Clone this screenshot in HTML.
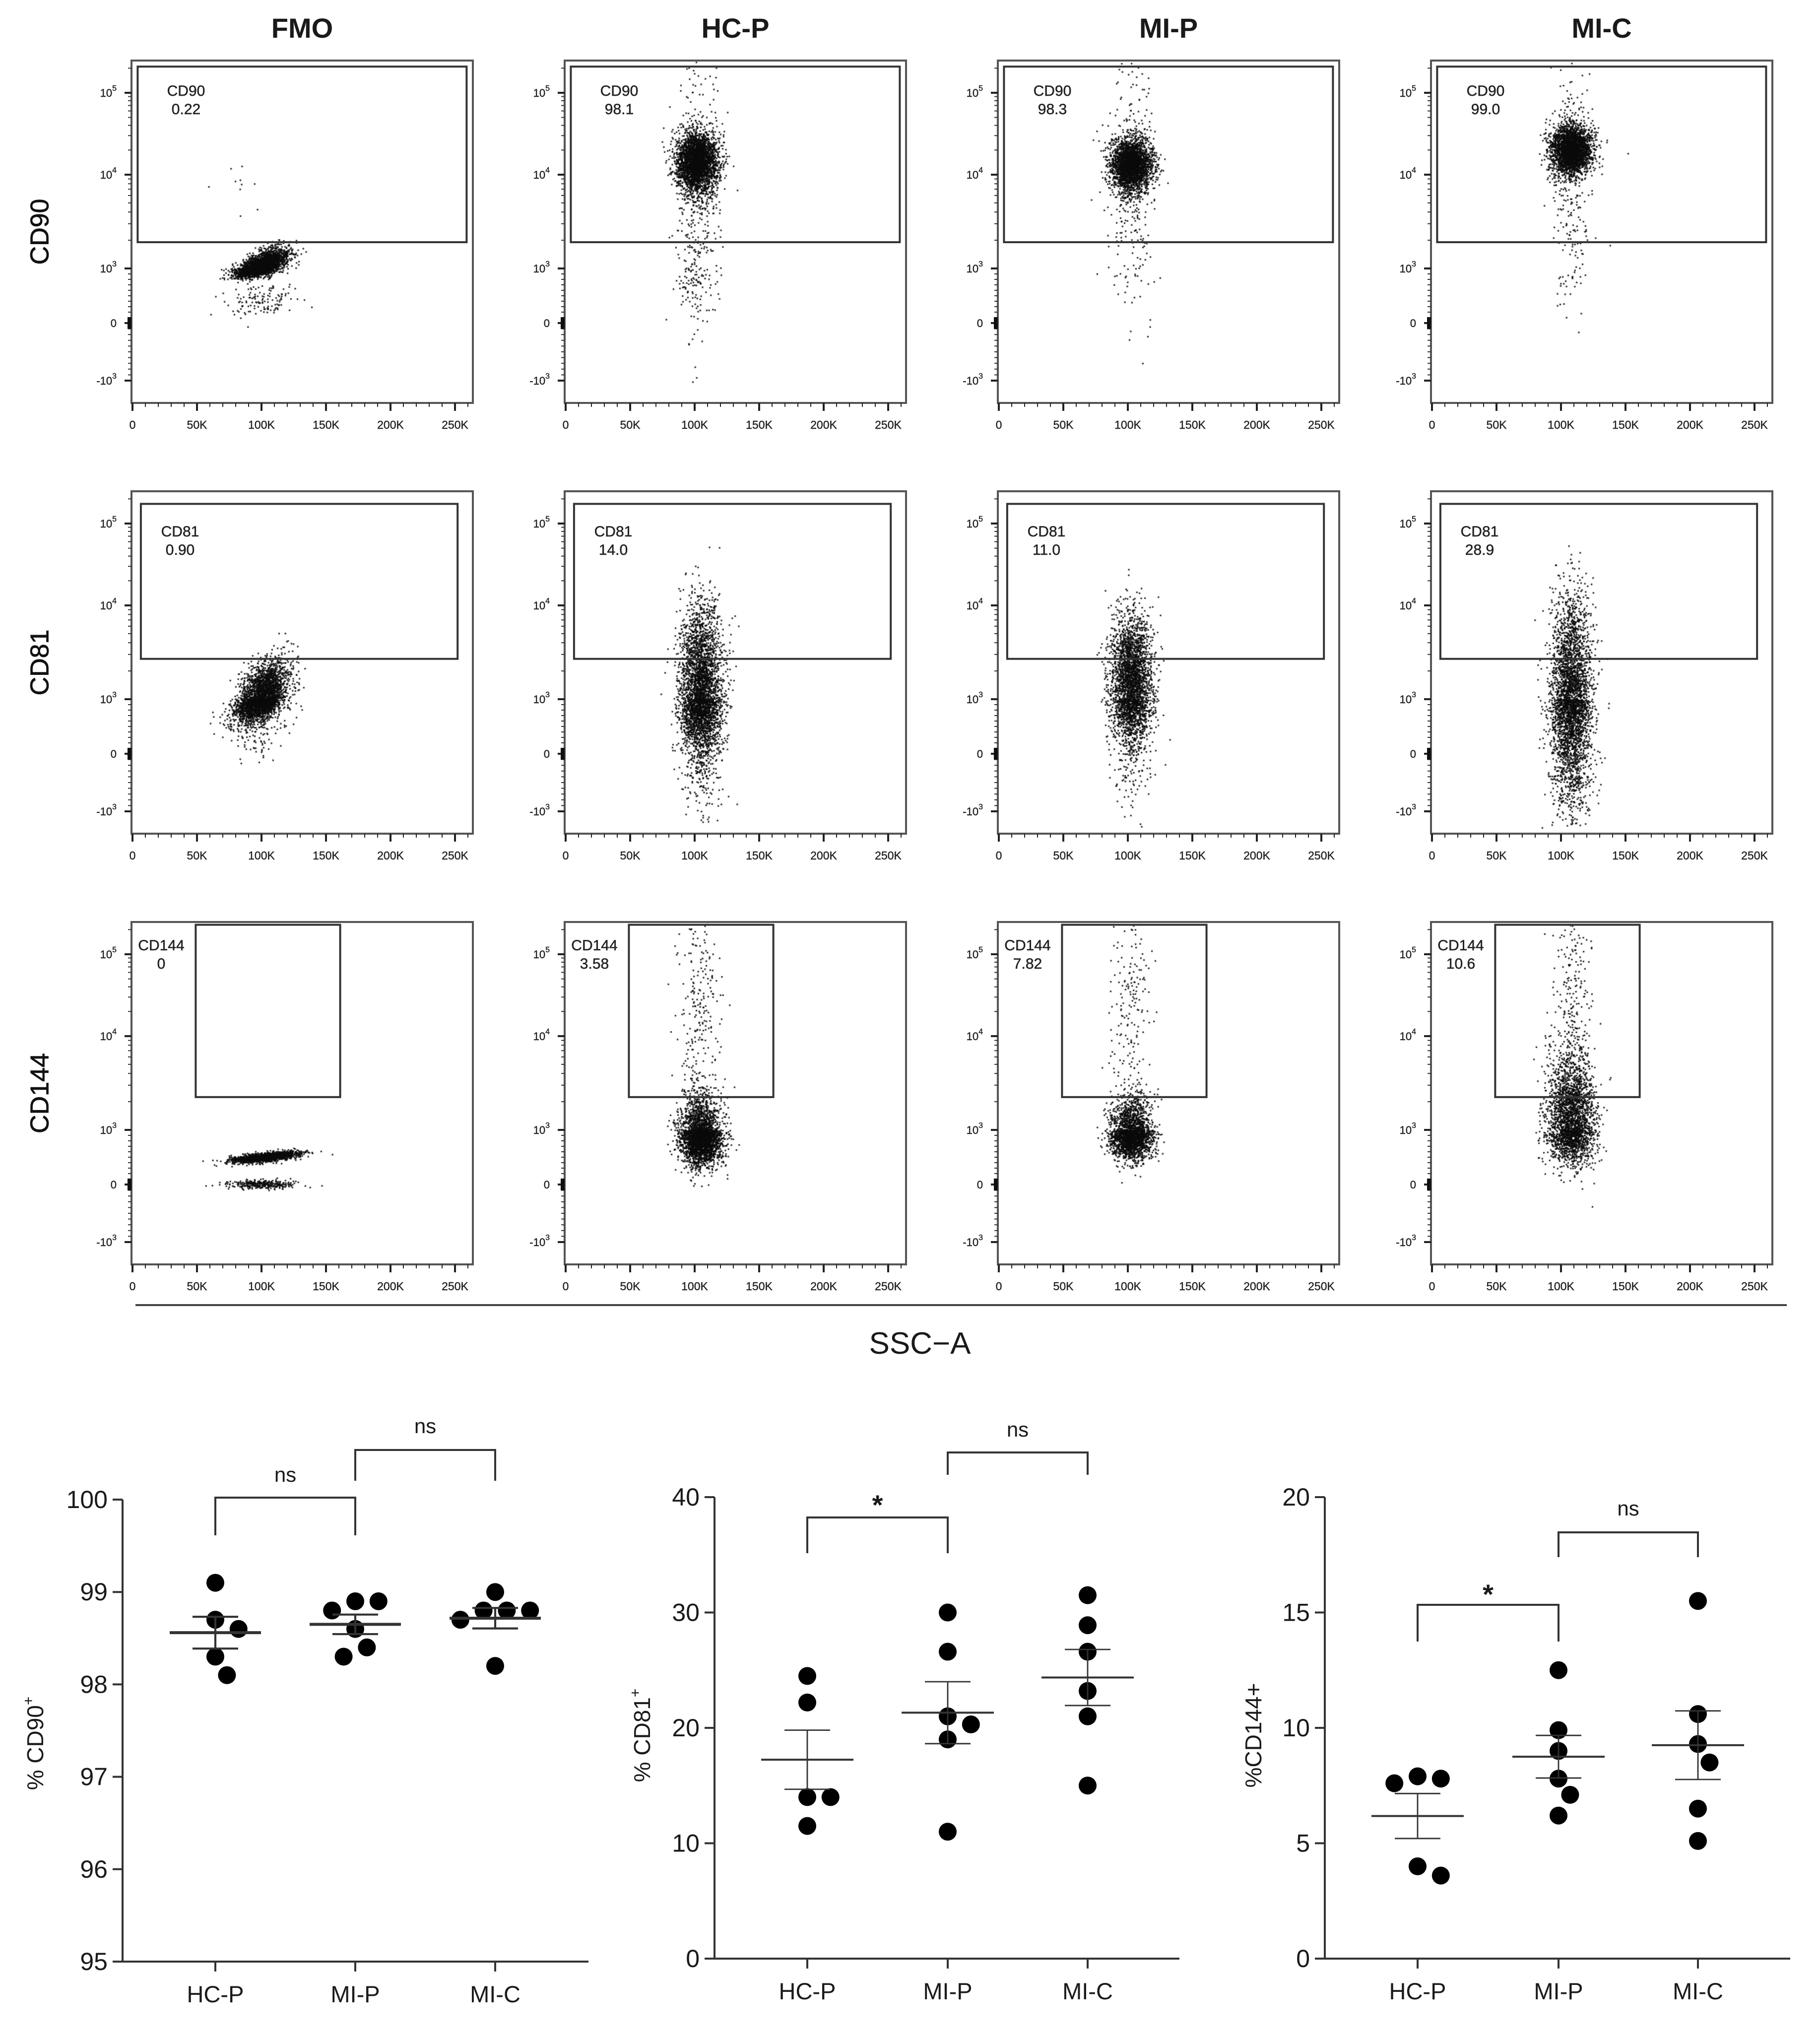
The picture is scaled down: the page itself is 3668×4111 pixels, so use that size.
<!DOCTYPE html>
<html><head><meta charset="utf-8">
<style>
html,body{margin:0;padding:0;background:#fff;}
#wrap{position:relative;width:3668px;height:4111px;overflow:hidden;}
#dots{position:absolute;left:0;top:0;}
#fig{position:absolute;left:0;top:0;}
text{font-family:"Liberation Sans",sans-serif;}
</style></head>
<body>
<div id="wrap">
<canvas id="dots" width="3668" height="4111"></canvas>
<svg id="fig" width="3668" height="4111" xmlns="http://www.w3.org/2000/svg"></svg>
</div>
<script>
// ---------- FLOW DATA ----------
const colTitles = ["FMO","HC-P","MI-P","MI-C"];
const rowMarkers = ["CD90","CD81","CD144"];
const gateValues = [["0.22","98.1","98.3","99.0"],["0.90","14.0","11.0","28.9"],["0","3.58","7.82","10.6"]];
// gates per row: [xMinK, xMaxK], [uBottom, uTop]
const gatesX = [[4,259],[6.5,252],[49,161]];
const gatesU = [[1.28,3.32],[1.43,3.24],[1.35,3.36]];
const xTickLabels = ["0","50K","100K","150K","200K","250K"];
const xTickValues = [0,50,100,150,200,250];
// populations: [centerK, centerU, sdK, sdU, rho, count]
const popsRow1 = [
  [[100,1.02,10,0.09,0.6,2500],[100,0.4,14,0.16,0.2,130],[95,1.6,14,0.3,0,12]],
  [[102,2.15,8,0.18,0,3000],[102,1.6,9,0.85,0,420]],
  [[103,2.12,8,0.16,0,2600],[103,2.0,9,0.8,0,320]],
  [[108,2.3,8,0.16,0,2600],[108,2.0,8,0.8,0,260]]
];
const popsRow2 = [
  [[100,1.0,10,0.2,0.5,2800],[100,0.6,13,0.3,0.3,200]],
  [[105,1.1,8,0.45,0,3000],[105,0.3,8,0.6,0,600]],
  [[103,1.2,8,0.35,0,2500],[103,0.5,8,0.6,0,500]],
  [[108,1.1,8,0.5,0,2500],[108,0.0,8,0.6,0,900]]
];
const popsRow3 = [
  [[103,0.5,13,0.05,0.6,1500],[100,0.0,14,0.04,0,300]],
  [[105,0.85,8,0.25,0,2800],[105,2.3,8,0.7,0,250]],
  [[103,0.9,8,0.22,0,2200],[103,2.3,8,0.7,0,200]],
  [[108,1.1,9,0.35,0,2500],[108,2.3,8,0.7,0,250]]
];
const populations = [popsRow1,popsRow2,popsRow3];

// ---------- DOT CHART DATA ----------
const categories = ["HC-P","MI-P","MI-C"];
const cd90Values = [[99.1,98.7,98.6,98.3,98.1],[98.9,98.9,98.8,98.6,98.4,98.3],[98.8,98.8,98.8,99.0,98.7,98.2]];
const cd81Values = [[24.5,22.2,14,14,11.5],[30,26.6,20.3,21,19,11],[31.5,28.9,26.6,23.2,21,15]];
const cd144Values = [[7.8,7.9,7.6,3.6,4],[12.5,9.9,9.0,7.8,7.1,6.2],[15.5,10.6,9.3,8.5,6.5,5.1]];
const cd90Ticks = [95,96,97,98,99,100];
const cd81Ticks = [0,10,20,30,40];
const cd144Ticks = [0,5,10,15,20];
const cd90Sig = ["ns","ns"];
const cd81Sig = ["*","ns"];
const cd144Sig = ["*","ns"];

// ---------- helpers ----------
const svg = document.getElementById('fig');
const NS = "http://www.w3.org/2000/svg";
function mk(tag, attrs, parent){
  const e = document.createElementNS(NS, tag);
  for (const k in attrs) e.setAttribute(k, attrs[k]);
  (parent||svg).appendChild(e);
  return e;
}
function txt(str, attrs, parent){
  const e = mk('text', attrs, parent);
  e.textContent = str;
  return e;
}
const ctx = document.getElementById('dots').getContext('2d');

let seed = 12345;
function rnd(){ seed |= 0; seed = seed + 0x6D2B79F5 | 0; let t = Math.imul(seed ^ seed >>> 15, 1 | seed); t = t + Math.imul(t ^ t >>> 7, 61 | t) ^ t; return ((t ^ t >>> 14) >>> 0) / 4294967296; }
function gauss(){ let u=0,v=0; while(u===0)u=rnd(); v=rnd(); return Math.sqrt(-2*Math.log(u))*Math.cos(2*Math.PI*v); }

const PW = 688, PH = 690;
const panelLeft = c => 265 + c*873;
const panelTop = r => 122 + r*868;
const uKnots = [-1,0,1,2,3];
const yKnots = [645,529,419,230,65];
function uToY(u){
  if (u <= uKnots[0]) return yKnots[0] + (u-uKnots[0])*(yKnots[1]-yKnots[0]);
  for (let i=0;i<uKnots.length-1;i++){
    if (u <= uKnots[i+1]) return yKnots[i] + (u-uKnots[i])/(uKnots[i+1]-uKnots[i])*(yKnots[i+1]-yKnots[i]);
  }
  const n = uKnots.length-1;
  return yKnots[n] + (u-uKnots[n])*(yKnots[n]-yKnots[n-1]);
}
const kToX = k => 2 + k*2.6;

colTitles.forEach((t,c)=>{
  const e = txt(t,{x:panelLeft(c)+PW/2, y:76, 'text-anchor':'middle','font-size':56,'font-weight':'bold',fill:'#1a1a1a'});
  
  
});
rowMarkers.forEach((m,r)=>{
  const cy = panelTop(r)+PH/2, cx = 84;
  const e = txt(m,{x:cx, y:cy, transform:`rotate(-90 ${cx} ${cy})`, 'text-anchor':'middle','dominant-baseline':'middle','font-size':52,fill:'#111',stroke:'#111','stroke-width':0.8});
  
  
});

for (let r=0;r<3;r++){
  for (let c=0;c<4;c++){
    const L = panelLeft(c), T = panelTop(r);
    const g = mk('g',{});
    
    
    const fr = mk('rect',{x:L,y:T,width:PW,height:PH,fill:'none',stroke:'#555','stroke-width':4},g);
    
    
    const yLabels = [["-10","3",-1],["0","",0],["10","3",1],["10","4",2],["10","5",3]];
    yLabels.forEach(([b,s,u])=>{
      const y = T+uToY(u);
      mk('line',{x1:L-14,y1:y,x2:L,y2:y,stroke:'#222','stroke-width':4},g);
      const t = txt(b,{x:L-30,y:y+8,'text-anchor':'end','font-size':22,fill:'#222',stroke:'#222','stroke-width':0.4},g);
      if (s){ const ts = mk('tspan',{dy:-12,'font-size':16},t); ts.textContent = s; }
      
      
    });
    for (let d=0; d<3; d++){
      for (let m=2;m<=9;m++){
        const y = T+uToY(1+d+Math.log10(m));
        if (y > T+4) mk('line',{x1:L-7,y1:y,x2:L,y2:y,stroke:'#333','stroke-width':2},g);
      }
    }
    for (let i=1;i<10;i++){
      const y1 = T+uToY(i/10), y2 = T+uToY(-i/10);
      mk('line',{x1:L-7,y1:y1,x2:L,y2:y1,stroke:'#333','stroke-width':2},g);
      mk('line',{x1:L-7,y1:y2,x2:L,y2:y2,stroke:'#333','stroke-width':2},g);
    }
    mk('rect',{x:L-8,y:T+uToY(0)-12,width:8,height:24,fill:'#111'},g);
    for (let k=0;k<=260;k+=10){
      const x = L+kToX(k), major = k%50===0;
      mk('line',{x1:x,y1:T+PH,x2:x,y2:T+PH+(major?16:8),stroke:'#222','stroke-width':major?4:2},g);
    }
    xTickValues.forEach((v,i)=>{
      const t = txt(xTickLabels[i],{x:L+kToX(v),y:T+PH+52,'text-anchor':'middle','font-size':23,fill:'#222',stroke:'#222','stroke-width':0.4},g);
      
      
    });
    const gx0 = L+kToX(gatesX[r][0]), gx1 = L+kToX(gatesX[r][1]);
    const gy0 = Math.max(T+4, T+uToY(gatesU[r][1])), gy1 = T+uToY(gatesU[r][0]);
    const gate = mk('rect',{x:gx0,y:gy0,width:gx1-gx0,height:gy1-gy0,fill:'none',stroke:'#333','stroke-width':4},g);
    
    
    const lx = r===0 ? L+110 : (r===1 ? L+98 : L+60);
    const ly = r===0 ? T+71 : (r===1 ? T+91 : T+57);
    const l1 = txt(rowMarkers[r],{x:lx,y:ly,'text-anchor':'middle','font-size':30,fill:'#222',stroke:'#222','stroke-width':0.5},g);
    
    
    const l2 = txt(gateValues[r][c],{x:lx,y:ly+37,'text-anchor':'middle','font-size':30,fill:'#222',stroke:'#222','stroke-width':0.5},g);
    
    
    ctx.fillStyle = 'rgba(10,10,10,0.85)';
    populations[r][c].forEach(([cx,cu,sx,su,rho,n])=>{
      for (let i=0;i<n;i++){
        const z1 = gauss(), z2 = gauss();
        const k = cx + sx*z1;
        const u = cu + su*(rho*z1 + Math.sqrt(1-rho*rho)*z2);
        const x = L + kToX(k), y = T + uToY(u);
        if (x < L+3 || x > L+PW-3 || y < T+3 || y > T+PH-3) continue;
        ctx.fillRect(x-1.6, y-1.6, 3.2, 3.2);
      }
    });
  }
}
const sscLine = mk('line',{x1:273,y1:2630,x2:3601,y2:2630,stroke:'#444','stroke-width':4});


const ssc = txt('SSC−A',{x:1854,y:2728,'text-anchor':'middle','font-size':62,fill:'#1a1a1a'});



function dotChart(o){
  const g = mk('g',{});
  
  
  const yS = v => o.yBot - (v-o.min)/(o.max-o.min)*(o.yBot-o.yTop);
  mk('line',{x1:o.ax,y1:o.yTop,x2:o.ax,y2:o.yBot,stroke:'#333','stroke-width':4},g);
  mk('line',{x1:o.ax,y1:o.yBot,x2:o.xEnd,y2:o.yBot,stroke:'#333','stroke-width':4},g);
  o.ticks.forEach(t=>{
    const y = yS(t);
    mk('line',{x1:o.ax-20,y1:y,x2:o.ax,y2:y,stroke:'#333','stroke-width':4},g);
    const e = txt(String(t),{x:o.ax-30,y:y+17,'text-anchor':'end','font-size':50,fill:'#1a1a1a'},g);
    
    
  });
  o.cats.forEach((cx,i)=>{
    mk('line',{x1:cx,y1:o.yBot,x2:cx,y2:o.yBot+20,stroke:'#333','stroke-width':4},g);
    const e = txt(categories[i],{x:cx,y:o.yBot+82,'text-anchor':'middle','font-size':47,fill:'#1a1a1a'},g);
    
    
  });
  const yl = txt(o.ylabel,{x:o.ylx,y:o.yly,transform:`rotate(-90 ${o.ylx} ${o.yly})`,'text-anchor':'middle','dominant-baseline':'middle','font-size':46,fill:'#1a1a1a'},g);
  if (o.ysup){ const s = mk('tspan',{dy:-16,'font-size':30},yl); s.textContent = o.ysup; }
  
  
  const R = 18;
  o.values.forEach((vals,i)=>{
    const cx = o.cats[i];
    const n = vals.length, mean = vals.reduce((a,b)=>a+b,0)/n;
    const sd = Math.sqrt(vals.reduce((a,b)=>a+(b-mean)*(b-mean),0)/(n-1));
    const sem = sd/Math.sqrt(n);
    const placed = [];
    const order = vals.map((v,j)=>j).sort((a,b)=>vals[b]-vals[a]);
    order.forEach(j=>{
      const y = yS(vals[j]);
      const cands = [0]; for (let s=1;s<6;s++){ cands.push(s*R*1.3, -s*R*1.3); }
      let pos = 0;
      for (const dx of cands){
        if (placed.every(p=>Math.hypot(p.x-(cx+dx),p.y-y) >= 2*R+2)){ pos = dx; break; }
      }
      placed.push({x:cx+pos,y:y});
      const dot = mk('circle',{cx:cx+pos,cy:y,r:R,fill:'#000'},g);
      
      
    });
    const ym = yS(mean), yh = yS(mean+sem), ylo = yS(mean-sem);
    const ml = mk('line',{x1:cx-o.mh,y1:ym,x2:cx+o.mh,y2:ym,stroke:'#333','stroke-width':o.lw},g);
    
    
    mk('line',{x1:cx,y1:yh,x2:cx,y2:ylo,stroke:'#333','stroke-width':o.lw*0.7},g);
    mk('line',{x1:cx-46,y1:yh,x2:cx+46,y2:yh,stroke:'#333','stroke-width':o.lw*0.7},g);
    mk('line',{x1:cx-46,y1:ylo,x2:cx+46,y2:ylo,stroke:'#333','stroke-width':o.lw*0.7},g);
  });
  o.brackets.forEach((b,i)=>{
    const x1 = o.cats[b.from], x2 = o.cats[b.to];
    const p = mk('path',{d:`M${x1} ${b.leg}V${b.top}H${x2}V${b.leg}`,fill:'none',stroke:'#333','stroke-width':4},g);
    
    
    const star = o.sig[i]==='*';
    const t = txt(o.sig[i],{x:(x1+x2)/2,y:b.ty+(star?30:12),'text-anchor':'middle','font-size':star?56:42,'font-weight':star?'bold':'normal',fill:'#1a1a1a'},g);
    
    
  });
}
dotChart({name:'cd90-dot-plot',ax:247,yTop:3022,yBot:3953,min:95,max:100,ticks:cd90Ticks,cats:[434,716,998],xEnd:1186,
  values:cd90Values,ylabel:'% CD90',ysup:'+',ylx:75,yly:3513,mh:92,lw:6,sig:cd90Sig,
  brackets:[{from:0,to:1,top:3018,leg:3094,ty:2974},{from:1,to:2,top:2922,leg:2984,ty:2876}]});
dotChart({name:'cd81-dot-plot',ax:1440,yTop:3017,yBot:3947,min:0,max:40,ticks:cd81Ticks,cats:[1627,1910,2192],xEnd:2377,
  values:cd81Values,ylabel:'% CD81',ysup:'+',ylx:1298,yly:3497,mh:93,lw:4,sig:cd81Sig,
  brackets:[{from:0,to:1,top:3058,leg:3130,ty:3022},{from:1,to:2,top:2927,leg:2972,ty:2883}]});
dotChart({name:'cd144-dot-plot',ax:2670,yTop:3017,yBot:3947,min:0,max:20,ticks:cd144Ticks,cats:[2857,3141,3422],xEnd:3608,
  values:cd144Values,ylabel:'%CD144+',ysup:'',ylx:2530,yly:3497,mh:93,lw:4,sig:cd144Sig,
  brackets:[{from:0,to:1,top:3234,leg:3308,ty:3202},{from:1,to:2,top:3088,leg:3138,ty:3042}]});
</script>
</body></html>
